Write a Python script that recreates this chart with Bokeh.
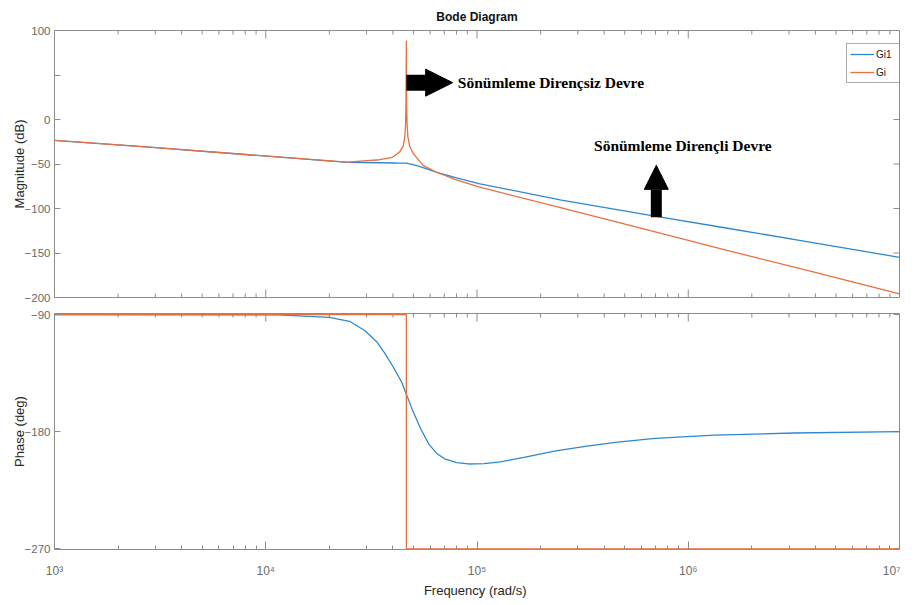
import math
from bokeh.plotting import figure
from bokeh.layouts import column
from bokeh.models import (FixedTicker, Range1d, Label, Arrow, NormalHead)
from bokeh.embed import file_html
from bokeh.resources import INLINE

# ---------------- data ----------------
freq_mag_gi1 = [1000, 2810, 8260, 24300, 34600, 41800, 46300, 51500, 57400, 64000,
                79200, 102000, 251000, 684000, 1510000, 3700000, 10000000]
mag_gi1 = [-23.5, -31.0, -39.6, -48.2, -48.6, -48.9, -49.0, -51.5, -55.2, -59.0,
           -65.3, -72.0, -90.7, -108.2, -121.9, -137.4, -154.9]

freq_mag_gi = [1000, 2810, 8260, 24300, 34600, 39800, 43000, 44700, 45500, 45900, 46100,
               46300, 46450, 46670, 47100, 48000, 50000, 55500, 64000, 79200, 102000,
               251000, 684000, 1510000, 3700000, 10000000]
mag_gi = [-23.5, -31.0, -39.6, -47.8, -45.2, -42.5, -36.6, -30.0, -20.0, -5.0, 15.0,
          88.5, 15.0, -5.0, -20.0, -30.0, -38.4, -51.5, -59.0, -67.5, -75.8,
          -99.3, -125.8, -146.8, -169.8, -196.0]

freq_ph_gi1 = [1000, 11400, 20000, 24900, 29400, 33700, 36700, 40200, 44000, 46600,
               49600, 54200, 59100, 64500, 70300, 80100, 91100, 108000, 128800,
               166800, 235600, 332000, 452000, 696000, 1330000, 3170000, 10000000]
ph_gi1 = [-90.0, -90.2, -92.1, -95.2, -102.3, -111.3, -120.0, -130.5, -142.0, -152.3,
          -163.8, -177.9, -189.5, -196.7, -200.8, -203.8, -204.8, -204.5, -203.2,
          -199.8, -194.8, -191.1, -188.2, -185.1, -182.6, -181.0, -180.0]

freq_ph_gi = [1000, 46300, 46300, 10000000]
ph_gi = [-90, -90, -270, -270]

series_names = ["Gi1", "Gi"]
mag_ticks = [-200, -150, -100, -50, 0, 50, 100]
phase_ticks = [-270, -180, -90]
freq_ticks = [1e3, 1e4, 1e5, 1e6, 1e7]
freq_tick_labels = ["10\u00b3", "10\u2074", "10\u2075", "10\u2076", "10\u2077"]
freq_minor = [m * 10 ** e for e in range(3, 7) for m in range(2, 10)]

# ---------------- styles ----------------
BLUE = "#2e88cf"
ORANGE = "#e86f3e"
AXIS = "#8c8c8c"
TICKTXT = "#6a6a6a"
LABTXT = "#262626"
FONT = "Liberation Sans"
W = 900
XMIN, XMAX = 1e3, 1e7


def tick_rays(p, ymin, ymax, yticks, top=True, bottom=False):
    """Mirror (inward) tick marks on the box edges, like MATLAB's box on."""
    kw = dict(line_color=AXIS, line_width=1, length_units="screen")
    edges = []
    if top:
        edges.append((ymax, -math.pi / 2))
    if bottom:
        edges.append((ymin, math.pi / 2))
    for yv, ang in edges:
        p.ray(x=freq_ticks, y=[yv] * len(freq_ticks), length=8, angle=ang, **kw)
        p.ray(x=freq_minor, y=[yv] * len(freq_minor), length=4, angle=ang, **kw)
    p.ray(x=[XMAX] * len(yticks), y=yticks, length=6, angle=math.pi, **kw)


def make_fig(height, yr, yticks, ylabel, top_border, bottom_border, show_x):
    p = figure(width=W, height=height, x_axis_type="log",
               x_range=Range1d(XMIN, XMAX), y_range=Range1d(*yr),
               output_backend="svg", toolbar_location=None,
               min_border_left=54, min_border_right=1,
               min_border_top=top_border, min_border_bottom=bottom_border)
    p.grid.visible = False
    p.outline_line_color = AXIS
    p.background_fill_color = "white"
    p.border_fill_color = "white"
    xa = p.xaxis[0]
    if show_x:
        xa.ticker = FixedTicker(ticks=freq_ticks, minor_ticks=freq_minor)
        xa.axis_line_color = AXIS
        xa.major_tick_line_color = AXIS
        xa.minor_tick_line_color = AXIS
        xa.major_tick_out = 0
        xa.minor_tick_out = 0
        xa.major_tick_in = 8
        xa.minor_tick_in = 4
        xa.major_label_text_color = TICKTXT
        xa.major_label_text_font = FONT
        xa.major_label_text_font_size = "12px"
        xa.major_label_overrides = {t: l for t, l in zip(freq_ticks, freq_tick_labels)}
        xa.major_label_standoff = 14
        xa.axis_label = "Frequency  (rad/s)"
        xa.axis_label_text_font = FONT
        xa.axis_label_text_font_style = "normal"
        xa.axis_label_text_color = LABTXT
        xa.axis_label_text_font_size = "13px"
        xa.axis_label_standoff = 2
    else:
        xa.visible = False
    ya = p.yaxis[0]
    ya.ticker = FixedTicker(ticks=yticks, minor_ticks=[])
    ya.axis_line_color = AXIS
    ya.major_tick_line_color = AXIS
    ya.major_tick_out = 0
    ya.major_tick_in = 6
    ya.minor_tick_out = 0
    ya.minor_tick_in = 0
    ya.major_label_text_color = TICKTXT
    ya.major_label_text_font = FONT
    ya.major_label_text_font_size = "11.5px"
    ya.major_label_standoff = 4
    ya.axis_label = ylabel
    ya.axis_label_text_font = FONT
    ya.axis_label_text_font_style = "normal"
    ya.axis_label_text_color = LABTXT
    ya.axis_label_text_font_size = "13px"
    ya.axis_label_standoff = -5
    tick_rays(p, yr[0], yr[1], yticks, top=True, bottom=not show_x)
    return p


# ---------------- magnitude ----------------
MAG_RANGE = (-200, 100)
pm = make_fig(305, MAG_RANGE, mag_ticks, "Magnitude (dB)", 30, 8, False)
pm.title.text = "Bode Diagram"
pm.title.align = "center"
pm.title.text_font = FONT
pm.title.text_font_size = "12px"
pm.title.text_font_style = "bold"
pm.title.text_color = "#111111"
pm.title.standoff = 13
pm.yaxis[0].major_label_overrides = {50: " "}

pm.line(freq_mag_gi1, mag_gi1, line_color=BLUE, line_width=1.3, legend_label=series_names[0])
pm.line(freq_mag_gi, mag_gi, line_color=ORANGE, line_width=1.3, legend_label=series_names[1])

lg = pm.legend[0]
lg.location = (792, 214)
lg.margin = 0
lg.border_line_color = "#555555"
lg.border_line_width = 1
lg.background_fill_alpha = 1
lg.label_text_font = FONT
lg.label_text_font_size = "10px"
lg.label_text_color = "#222222"
lg.glyph_width = 24
lg.glyph_height = 14
lg.label_height = 14
lg.label_standoff = 2
lg.spacing = 4
lg.padding = 3

# annotations
pm.add_layout(Arrow(end=None, x_start=46300, y_start=41.4, x_end=58600, y_end=41.4,
                    line_width=16, line_color="black", line_cap="butt"))
pm.add_layout(Arrow(end=NormalHead(size=27, fill_color="black", line_color="black"),
                    x_start=50000, y_start=41.4, x_end=76700, y_end=41.4,
                    line_alpha=0))
pm.add_layout(Label(x=81100, y=41.4, text="Sönümleme Dirençsiz Devre",
                    text_font="Liberation Serif", text_font_style="bold",
                    text_font_size="15.5px", text_baseline="middle", text_color="black"))

pm.add_layout(Arrow(end=None, x_start=706000, y_start=-109.7, x_end=706000, y_end=-79.0,
                    line_width=11, line_color="black", line_cap="butt"))
pm.add_layout(Arrow(end=NormalHead(size=24, fill_color="black", line_color="black"),
                    x_start=706000, y_start=-100, x_end=706000, y_end=-51.5,
                    line_alpha=0))
pm.add_layout(Label(x=358000, y=-29.1, text="Sönümleme Dirençli Devre",
                    text_font="Liberation Serif", text_font_style="bold",
                    text_font_size="15.5px", text_baseline="middle", text_color="black"))

# ---------------- phase ----------------
PH_RANGE = (-270.5, -89.2)
pp = make_fig(296, PH_RANGE, phase_ticks, "Phase (deg)", 8, 52, True)
pp.line(freq_ph_gi1, ph_gi1, line_color=BLUE, line_width=1.3)
pp.line(freq_ph_gi, ph_gi, line_color=ORANGE, line_width=1.3)

layout = column(pm, pp, spacing=0)
open("out.html", "w").write(file_html(layout, INLINE))
